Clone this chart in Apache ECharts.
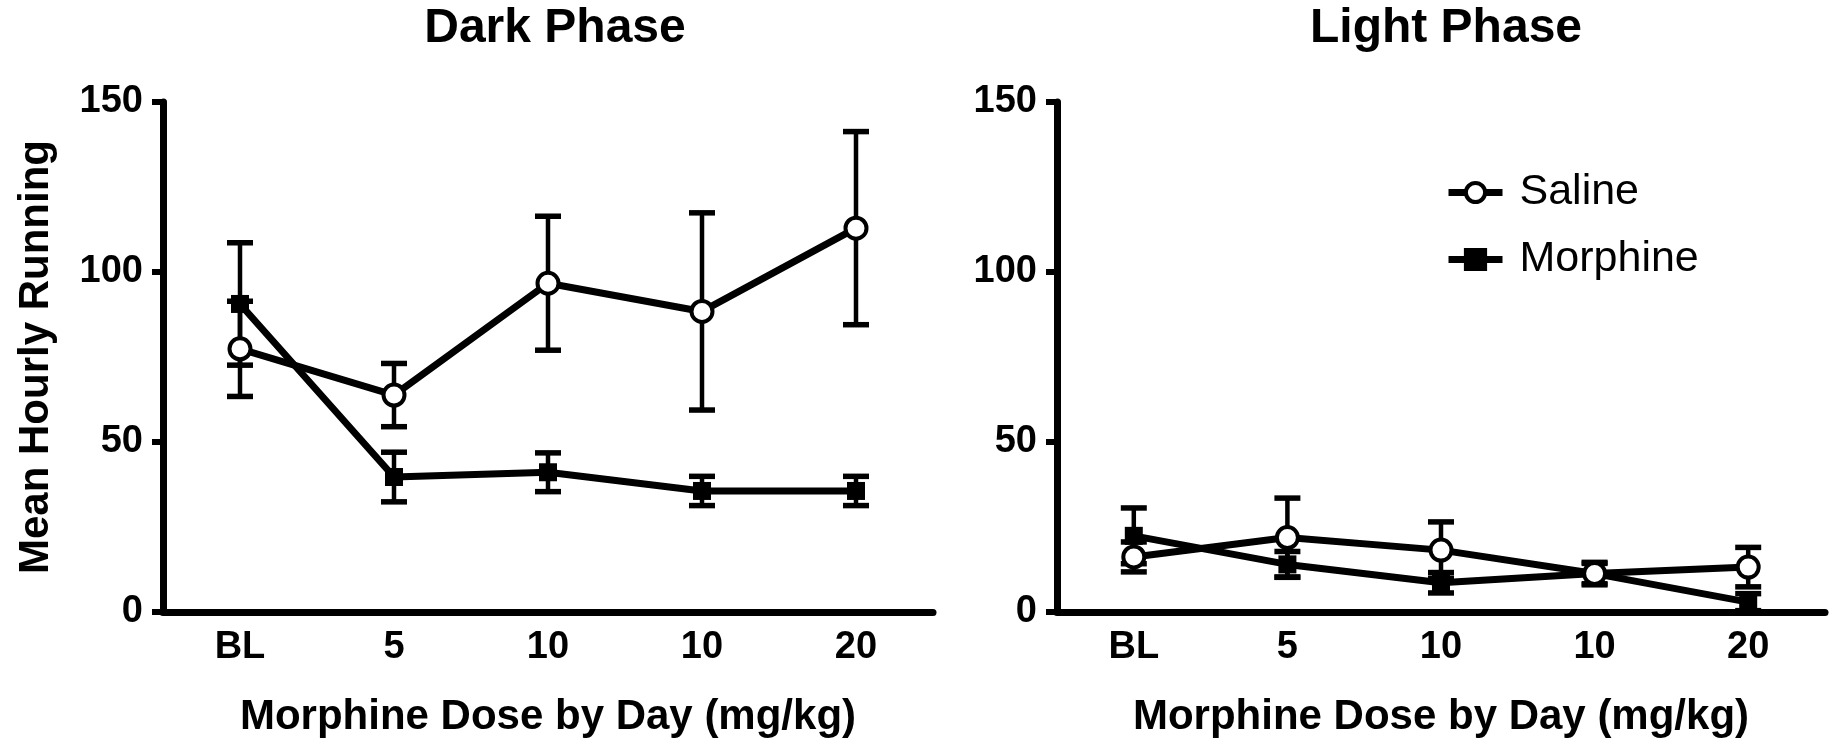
<!DOCTYPE html>
<html>
<head>
<meta charset="utf-8">
<script src="https://cdn.jsdelivr.net/npm/echarts@6/dist/echarts.min.js"></script>
<style>
html,body{margin:0;padding:0;background:#fff;}
#chart{width:1838px;height:746px;}
</style>
</head>
<body>
<div id="chart"></div>
<script>
// ---- data ----
const categories = ['BL', '5', '10', '10', '20'];
const yTicks = [0, 50, 100, 150];
const seriesNames = ['Saline', 'Morphine'];

const darkSaline     = [77.4, 63.8, 96.7, 88.4, 112.9];
const darkSalineErr  = [14.0, 9.3, 19.7, 29.0, 28.4];
const darkMorphine   = [90.6, 39.7, 41.1, 35.6, 35.6];
const darkMorphineErr= [18.0, 7.3, 5.7, 4.3, 4.3];

const lightSaline     = [16.2, 21.9, 18.2, 11.3, 13.2];
const lightSalineErr  = [4.4, 11.6, 8.3, 3.3, 5.8];
const lightMorphine   = [22.4, 14.0, 8.6, 11.3, 2.9];
const lightMorphineErr= [8.2, 3.8, 3.0, 3.0, 2.5];

const FONT = '"Liberation Sans", Arial, Helvetica, sans-serif';
const BLACK = '#000';

function errData(mean, err) {
  return mean.map((m, i) => [i, m - err[i], m + err[i]]);
}

function errRender(params, api) {
  const x = api.value(0);
  const pLo = api.coord([x, api.value(1)]);
  const pHi = api.coord([x, api.value(2)]);
  const hw = 13;
  const stem = { stroke: BLACK, lineWidth: 4.5 };
  const cap = { stroke: BLACK, lineWidth: 5.5 };
  return {
    type: 'group',
    children: [
      { type: 'line', shape: { x1: pLo[0], y1: pLo[1], x2: pHi[0], y2: pHi[1] }, style: stem },
      { type: 'line', shape: { x1: pLo[0] - hw, y1: pLo[1], x2: pLo[0] + hw, y2: pLo[1] }, style: cap },
      { type: 'line', shape: { x1: pHi[0] - hw, y1: pHi[1], x2: pHi[0] + hw, y2: pHi[1] }, style: cap }
    ]
  };
}

function xAxisDef(gridIndex) {
  return {
    type: 'category', gridIndex: gridIndex, data: categories, boundaryGap: true,
    axisLine: { lineStyle: { color: BLACK, width: 7 } },
    axisTick: { alignWithLabel: true, length: 11, lineStyle: { color: BLACK, width: 6 } },
    axisLabel: { color: BLACK, fontFamily: FONT, fontWeight: 'bold', fontSize: 38, margin: 17 },
    name: 'Morphine Dose by Day (mg/kg)', nameLocation: 'middle', nameGap: 84,
    nameTextStyle: { color: BLACK, fontFamily: FONT, fontWeight: 'bold', fontSize: 42 },
    splitLine: { show: false }
  };
}
function yAxisDef(gridIndex, withName) {
  const ax = {
    type: 'value', gridIndex: gridIndex, min: yTicks[0], max: yTicks[yTicks.length - 1], interval: 50,
    axisLine: { show: true, lineStyle: { color: BLACK, width: 7 } },
    axisTick: { show: true, length: 11, lineStyle: { color: BLACK, width: 6 } },
    axisLabel: { color: BLACK, fontFamily: FONT, fontWeight: 'bold', fontSize: 38, margin: 20 },
    splitLine: { show: false }
  };
  if (withName) {
    ax.name = 'Mean Hourly Running';
    ax.nameLocation = 'middle';
    ax.nameGap = 106;
    ax.nameTextStyle = { color: BLACK, fontFamily: FONT, fontWeight: 'bold', fontSize: 42 };
  }
  return ax;
}

function lineSeries(name, idx, data, isSaline) {
  return {
    name: name, type: 'line', xAxisIndex: idx, yAxisIndex: idx, data: data,
    symbol: isSaline ? 'circle' : 'rect',
    symbolSize: isSaline ? 21 : 18,
    color: BLACK,
    lineStyle: { color: BLACK, width: 7 },
    itemStyle: isSaline ? { color: '#fff', borderColor: BLACK, borderWidth: 4 } : { color: BLACK, borderColor: BLACK, borderWidth: 0 },
    z: isSaline ? 4 : 3,
    animation: false
  };
}
function errSeries(name, idx, mean, err) {
  return {
    name: name + ' SEM', type: 'custom', xAxisIndex: idx, yAxisIndex: idx,
    data: errData(mean, err), renderItem: errRender,
    encode: { x: 0, y: [1, 2] }, z: 2, animation: false, silent: true
  };
}

const chart = echarts.init(document.getElementById('chart'), null, { renderer: 'canvas' });
chart.setOption({
  backgroundColor: '#fff',
  animation: false,
  textStyle: { fontFamily: FONT },
  title: [
    { text: 'Dark Phase', left: 550, top: 0, textAlign: 'center',
      textStyle: { color: BLACK, fontFamily: FONT, fontWeight: 'bold', fontSize: 48 } },
    { text: 'Light Phase', left: 1441, top: 0, textAlign: 'center',
      textStyle: { color: BLACK, fontFamily: FONT, fontWeight: 'bold', fontSize: 48 } }
  ],
  legend: {
    data: seriesNames, orient: 'vertical', left: 1440, top: 166,
    itemWidth: 54, itemHeight: 24, itemGap: 24,
    lineStyle: { width: 7, color: BLACK },
    itemStyle: { borderWidth: 4 },
    textStyle: { color: BLACK, fontFamily: FONT, fontSize: 43, lineHeight: 43, padding: [0, 0, 0, 12] },
    selectedMode: false
  },
  grid: [
    { left: 163, top: 102, width: 770, height: 510 },
    { left: 1057, top: 102, width: 768, height: 510 }
  ],
  xAxis: [xAxisDef(0), xAxisDef(1)],
  yAxis: [yAxisDef(0, true), yAxisDef(1, false)],
  series: [
    lineSeries(seriesNames[1], 0, darkMorphine, false),
    lineSeries(seriesNames[0], 0, darkSaline, true),
    lineSeries(seriesNames[1], 1, lightMorphine, false),
    lineSeries(seriesNames[0], 1, lightSaline, true),
    errSeries(seriesNames[0], 0, darkSaline, darkSalineErr),
    errSeries(seriesNames[1], 0, darkMorphine, darkMorphineErr),
    errSeries(seriesNames[0], 1, lightSaline, lightSalineErr),
    errSeries(seriesNames[1], 1, lightMorphine, lightMorphineErr)
  ]
});
</script>
</body>
</html>
